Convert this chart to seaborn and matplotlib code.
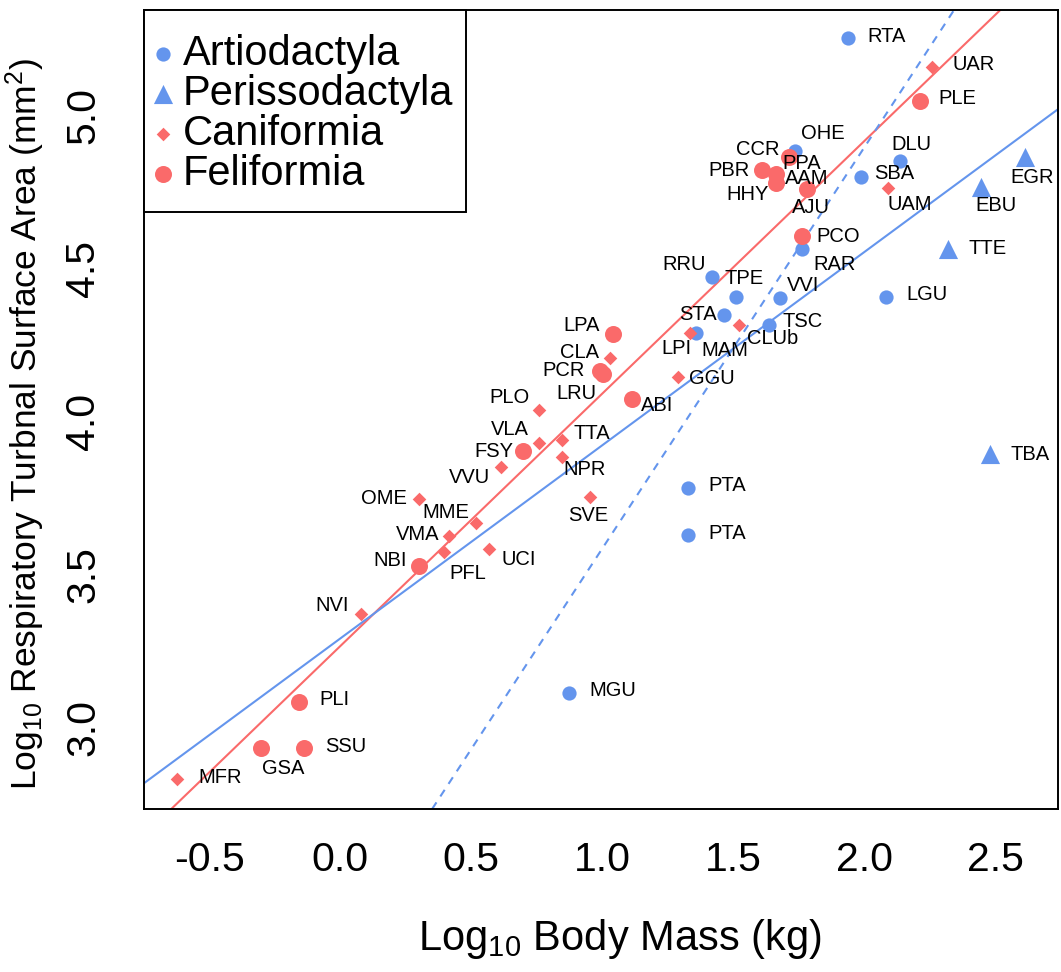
import numpy as np
import pandas as pd
import seaborn as sns
import matplotlib
matplotlib.use("Agg")
import matplotlib.pyplot as plt
from matplotlib.patches import Rectangle

# ---------------- data ----------------
artio_codes = ["RTA", "OHE", "DLU", "SBA", "AAM", "RAR", "RRU", "TPE", "VVI", "LGU",
               "STA", "TSC", "MAM", "PTA", "PTA", "MGU"]
artio_x = [1.935, 1.733, 2.134, 1.985, 1.663, 1.762, 1.417, 1.509, 1.676, 2.080,
           1.462, 1.635, 1.358, 1.328, 1.328, 0.874]
artio_y = [5.253, 4.884, 4.850, 4.799, 4.789, 4.562, 4.473, 4.407, 4.404, 4.407,
           4.346, 4.315, 4.290, 3.783, 3.628, 3.113]

peri_codes = ["EGR", "EBU", "TTE", "TBA"]
peri_x = [2.612, 2.443, 2.318, 2.477]
peri_y = [4.865, 4.765, 4.563, 3.893]

cani_codes = ["UAR", "UAM", "CLUb", "LPI", "CLA", "GGU", "PLO", "VLA", "TTA", "NPR",
              "VVU", "SVE", "OME", "MME", "VMA", "PFL", "UCI", "NVI", "MFR"]
cani_x = [2.257, 2.089, 1.520, 1.332, 1.027, 1.290, 0.757, 0.760, 0.845, 0.845,
          0.613, 0.953, 0.302, 0.518, 0.416, 0.397, 0.569, 0.079, -0.621]
cani_y = [5.159, 4.763, 4.315, 4.288, 4.208, 4.146, 4.037, 3.930, 3.939, 3.884,
          3.850, 3.752, 3.746, 3.667, 3.626, 3.572, 3.582, 3.369, 2.831]

feli_codes = ["PLE", "CCR", "PBR", "PPA", "HHY", "AJU", "PCO", "LPA", "PCR", "LRU",
              "ABI", "FSY", "NBI", "PLI", "GSA", "SSU"]
feli_x = [2.210, 1.711, 1.608, 1.660, 1.663, 1.781, 1.760, 1.042, 0.990, 1.002,
          1.113, 0.698, 0.299, -0.156, -0.303, -0.137]
feli_y = [5.047, 4.865, 4.821, 4.808, 4.778, 4.758, 4.607, 4.284, 4.165, 4.155,
          4.072, 3.903, 3.528, 3.084, 2.931, 2.931]

groups = ["Artiodactyla", "Perissodactyla", "Caniformia", "Feliformia"]

# regression lines: intercept, slope
fit_names = ["Carnivora", "Ungulates", "Artiodactyla (dashed)"]
fit_intercepts = [3.265, 3.290, 2.273]
fit_slopes = [0.826, 0.632, 1.312]

x_ticks = [-0.5, 0.0, 0.5, 1.0, 1.5, 2.0, 2.5]
x_tick_labels = ["-0.5", "0.0", "0.5", "1.0", "1.5", "2.0", "2.5"]
y_ticks = [3.0, 3.5, 4.0, 4.5, 5.0]
y_tick_labels = ["3.0", "3.5", "4.0", "4.5", "5.0"]

# ---------------- label offsets (pixels, +x right, +y down) ----------------
label_offsets = {
    "RTA": (39, -1), "OHE": (28, -17), "DLU": (12, -17), "SBA": (33, -3), "AAM": (30, -1),
    "RAR": (32, 15), "RRU": (-28, -12), "TPE": (8, -18), "VVI": (23, -12), "LGU": (41, -2),
    "STA": (-26, -1), "TSC": (34, -3), "MAM": (28, 18), "PTA": (39, -2), "MGU": (43, -2),
    "EGR": (7, 21), "EBU": (15, 18), "TTE": (39, 0), "TBA": (40, 0),
    "UAR": (42, -2), "UAM": (22, 17), "CLUb": (34, 14), "LPI": (-13, 15), "CLA": (-30, -5),
    "GGU": (33, 2), "PLO": (-29, -12), "VLA": (-30, -13), "TTA": (30, -6), "NPR": (23, 13),
    "VVU": (-31, 10), "SVE": (-2, 18), "OME": (-35, -1), "MME": (-30, -11), "VMA": (-32, -1),
    "PFL": (23, 21), "UCI": (29, 10), "NVI": (-29, -9), "MFR": (43, -2),
    "PLE": (38, -2), "CCR": (-31, -7), "PBR": (-33, 0), "PPA": (26, -11), "HHY": (-29, 11),
    "AJU": (4, 18), "PCO": (36, 1), "LPA": (-32, -9), "PCR": (-36, 0), "LRU": (-27, 20),
    "ABI": (25, 6), "FSY": (-29, 1), "NBI": (-28, -5), "PLI": (35, -2), "GSA": (22, 20),
    "SSU": (41, -2),
}

BLUE = "#6495ED"
RED = "#FA6A6A"

frames = []
for g, codes, xs, ys in [("Artiodactyla", artio_codes, artio_x, artio_y),
                         ("Perissodactyla", peri_codes, peri_x, peri_y),
                         ("Caniformia", cani_codes, cani_x, cani_y),
                         ("Feliformia", feli_codes, feli_x, feli_y)]:
    frames.append(pd.DataFrame({"group": g, "code": codes, "mass": xs, "area": ys}))
df = pd.concat(frames, ignore_index=True)

sns.set_style("white")
plt.rcParams["font.family"] = ["Liberation Sans", "DejaVu Sans"]
plt.rcParams["mathtext.default"] = "regular"
plt.rcParams["text.color"] = "black"
plt.rcParams["axes.labelcolor"] = "black"
plt.rcParams["xtick.color"] = "black"
plt.rcParams["ytick.color"] = "black"

W, H = 1061, 972
AX_L, AX_R, AX_T, AX_B = 144, 1058, 10, 809
fig = plt.figure(figsize=(W / 100, H / 100), dpi=100)
ax = fig.add_axes([AX_L / W, 1 - AX_B / H, (AX_R - AX_L) / W, (AX_B - AX_T) / H])
axw, axh = AX_R - AX_L, AX_B - AX_T

# regression lines
line_colors = [RED, BLUE, BLUE]
line_styles = ["-", "-", (0, (3.8, 3.4))]
for b0, b1, c, ls in zip(fit_intercepts, fit_slopes, line_colors, line_styles):
    ax.axline((0, b0), slope=b1, color=c, lw=1.5, ls=ls, zorder=1)

style = {
    "Artiodactyla": dict(marker="o", s=105, color=BLUE),
    "Perissodactyla": dict(marker="^", s=190, color=BLUE),
    "Caniformia": dict(marker="D", s=48, color=RED),
    "Feliformia": dict(marker="o", s=150, color=RED),
}
for g in groups:
    sub = df[df["group"] == g]
    sns.scatterplot(data=sub, x="mass", y="area", ax=ax, label=g, linewidth=0,
                    zorder=3, **style[g])

for _, r in df.iterrows():
    dx, dy = label_offsets[r["code"]]
    ax.annotate(r["code"], (r["mass"], r["area"]), xytext=(dx * 0.72, -dy * 0.72),
                textcoords="offset points", ha="center", va="center",
                fontsize=14.5, color="black", zorder=4)

ax.set_xlim(-0.748, 2.737)
ax.set_ylim(2.733, 5.344)
ax.set_xticks(x_ticks)
ax.set_xticklabels(x_tick_labels)
ax.set_yticks(y_ticks)
ax.set_yticklabels(y_tick_labels, rotation=90, va="center")
ax.tick_params(axis="both", direction="out", length=13, width=1.4, labelsize=29.5,
               colors="black", labelcolor="black")
ax.tick_params(axis="x", pad=10)
ax.tick_params(axis="y", pad=17)
for sp in ax.spines.values():
    sp.set_visible(True)
    sp.set_color("black")
    sp.set_linewidth(1.4)

ax.set_xlabel(r"Log$_{10}$ Body Mass (kg)", fontsize=30, color="black")
ax.xaxis.set_label_coords((620 - AX_L) / axw, (AX_B - 917) / axh)
ax.set_ylabel(r"Log$_{10}$ Respiratory Turbnal Surface Area (mm$^2$)", fontsize=25.5,
              color="black")
ax.yaxis.set_label_coords((47 - AX_L) / axw, (AX_B - 424) / axh)

# legend box (drawn as frame) + legend entries
ax.add_patch(Rectangle((0, (AX_B - 212) / axh), (466 - AX_L) / axw, (212 - AX_T) / axh,
                       transform=ax.transAxes, facecolor="white", edgecolor="black",
                       lw=1.4, zorder=4.9, clip_on=False))
leg = ax.legend(loc="upper left", bbox_to_anchor=((163 - AX_L) / axw, (AX_B - 34) / axh),
                borderaxespad=0, borderpad=0, fontsize=30, frameon=False,
                handlelength=0, handletextpad=0.48, labelspacing=0.0, labelcolor="black")
leg.set_zorder(5)

fig.savefig("out.png", dpi=100)
